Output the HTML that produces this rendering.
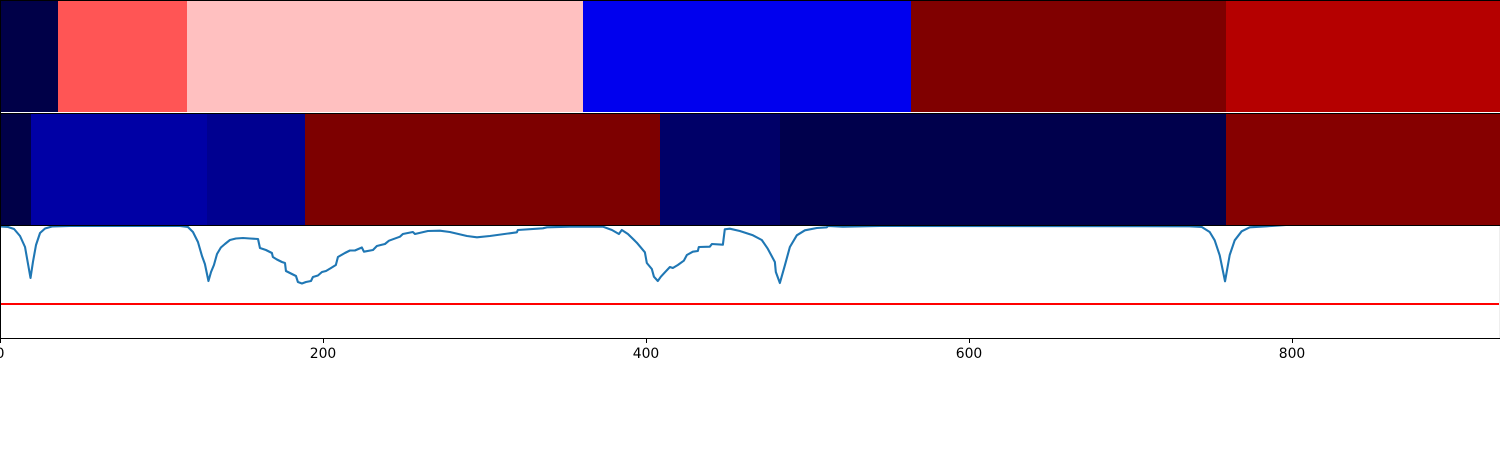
<!DOCTYPE html>
<html lang="en">
<head>
<meta charset="utf-8">
<title>Heat strips with signal trace</title>
<style>
html,body{margin:0;padding:0;background:#fff;}
body{width:1500px;height:450px;overflow:hidden;}
svg{display:block;}
text{font-family:"DejaVu Sans","Liberation Sans",sans-serif;font-size:13.9px;fill:#000;}
</style>
</head>
<body>
<svg id="chart" width="1500" height="450" viewBox="0 0 1500 450" xmlns="http://www.w3.org/2000/svg">
<defs><clipPath id="plot-clip"><rect x="0" y="226" width="1500" height="112"></rect></clipPath></defs>
</svg>
<script>
const topEdges = [0, 36, 116, 361, 564, 675, 759, 929];
const topScores = [0.01, 0.667, 0.562, 0.228, 0.985, 0.99, 0.887];
const midEdges = [0, 19, 128, 189, 409, 483, 759, 929];
const midScores = [0.01, 0.132, 0.105, 0.99, 0.052, 0.016, 0.974];
const traceX = [0,5,8.7,12.4,15.5,16.7,18.9,20.4,22.3,24.8,27.9,32.2,43.3,
111.5,116.4,119.5,122.6,125.1,126.9,129.1,130.7,132.5,134.4,136.8,139.3,142.4,146.1,150.5,154.8,159.8,161,164.7,168.4,169,171.5,174.6,176.5,177.1,180.8,183.3,184.5,187,189.5,192.6,193.8,196.9,199.4,201.9,205,208,209.3,213.6,216.7,219.8,224.1,225.4,231,233.4,238.4,240.9,247.7,249.5,255.7,257,265,272.4,278.6,289.2,295.4,303.4,320.1,320.7,336.2,338.7,352.9,373.4,379,383.3,385.1,388.9,394.4,399.4,400.6,403.7,405,407.4,409.3,411.8,414.9,416.7,419.8,423.5,425.4,429.1,432.2,432.8,439.6,440.9,447.7,448.9,452,458.2,466.3,471.8,475.5,479.9,480.5,483,486.1,489.2,493.5,498.5,505.9,512.1,512.7,522,544.9,736.8,744.3,749.2,752.3,755.4,758.7,761.6,764.7,769,774,784.5,805,929];
const traceY = [111.5,111,109,102,91,80,60,76,93,105,109.5,111.5,112,
112,111,106,96,82,74,57,66,73,84,90.5,94,98,99.5,100,99.5,99,90,88,85,81,78.5,76,75,67,64,62,56,54.5,56,57,61,62.5,66,67,70,73,81,85,87.5,87.5,90.5,86.3,88,92,94,97.3,101.3,104,106,104,107,107.3,106,102,100.7,102,105.7,108,109.7,110.7,111.3,111.3,108,104,108,104,95.3,85.7,75,69,61.3,57,61.3,65.7,71,70,73,77.3,83,86.3,87,91,91.3,94,93.3,108.7,109.3,107,102.7,98,89.3,76,66,55,72.7,91,102.7,107.7,110,110.7,112,111.3,112,111.7,111,106,97.7,82.7,56.7,83,97.7,106.7,110.7,111.7,114,114];
const thresholdValue = [34];
const xTickValues = [0, 200, 400, 600, 800];

const svg = document.getElementById('chart');
const NS = 'http://www.w3.org/2000/svg';
const xUnit = 1500 / 929;
function xScale(v) { return v * xUnit; }
function yScale(v) { return 338 - v; }
const colorStops = [[0, 0, 64], [0, 0, 255], [255, 255, 255], [255, 0, 0], [120, 0, 0]];
function colorFor(t) {
  const p = Math.max(0, Math.min(1, t)) * 4;
  const i = Math.min(3, Math.floor(p));
  const f = p - i;
  const c = colorStops[i].map((s, k) => Math.round(s + (colorStops[i + 1][k] - s) * f));
  return 'rgb(' + c.join(',') + ')';
}
function make(tag) { return document.createElementNS(NS, tag); }
function setAll(el, attrs) { for (const k in attrs) el.setAttribute(k, attrs[k]); return el; }
function drawStrip(edges, scores, top, bottom, name) {
  scores.forEach((s, i) => {
    const r = make('rect');
    
    
    const x0 = Math.round(xScale(edges[i]));
    const x1 = Math.round(xScale(edges[i + 1]));
    setAll(r, { x: x0, y: top, width: x1 - x0, height: bottom - top, fill: colorFor(s) });
    svg.appendChild(r);
  });
}
drawStrip(topEdges, topScores, 1, 112, 'top-strip');
drawStrip(midEdges, midScores, 114, 225, 'middle-strip');

const threshold = make('line');


setAll(threshold, { x1: xScale(0), x2: 1499, y1: yScale(thresholdValue[0]), y2: yScale(thresholdValue[0]), stroke: '#ff0000', 'stroke-width': 2 });
svg.appendChild(threshold);

const trace = make('polyline');


setAll(trace, {
  points: traceX.map((x, i) => xScale(x).toFixed(2) + ',' + yScale(traceY[i]).toFixed(2)).join(' '),
  fill: 'none', stroke: '#1f77b4', 'stroke-width': 2.1, 'stroke-linejoin': 'round', 'clip-path': 'url(#plot-clip)'
});
svg.appendChild(trace);

function spine(x1, y1, x2, y2, color, name) {
  const l = make('line');
  
  
  setAll(l, { x1: x1, y1: y1, x2: x2, y2: y2, stroke: color, 'stroke-width': 1 });
  svg.appendChild(l);
}
spine(0, 0.5, 1500, 0.5, '#000', 'top-strip-top-spine');
spine(0, 112.5, 1500, 112.5, '#fff', 'strip-gap');
spine(0, 113.5, 1500, 113.5, '#000', 'middle-strip-top-spine');
spine(0, 225.5, 1500, 225.5, '#000', 'trace-top-spine');
spine(0, 338.5, 1500, 338.5, '#000', 'x-axis-line');
spine(0.5, 0, 0.5, 338, '#000', 'left-spine');
spine(1499.5, 226, 1499.5, 338, '#eeeeee', 'right-spine');

xTickValues.forEach(v => {
  const px = Math.round(xScale(v)) + 0.5;
  const tick = make('line');
  
  
  setAll(tick, { x1: px, x2: px, y1: 338, y2: 343, stroke: '#000', 'stroke-width': 1 });
  svg.appendChild(tick);
  const label = make('text');
  
  
  setAll(label, { x: px - 0.5, y: 358, 'text-anchor': 'middle' });
  label.textContent = String(v);
  svg.appendChild(label);
});
</script>
</body>
</html>
